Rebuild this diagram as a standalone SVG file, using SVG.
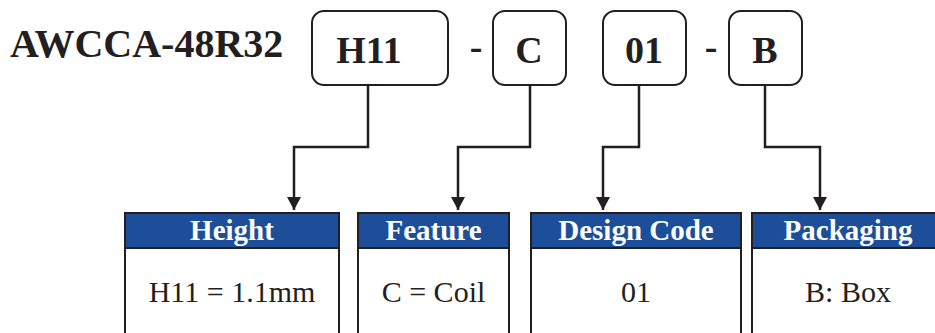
<svg xmlns="http://www.w3.org/2000/svg" width="935" height="333" viewBox="0 0 935 333">
<style>
.t{font-family:"Liberation Serif","Times New Roman",serif;fill:#231f20}
.b{font-weight:bold}
.code{stroke:#231f20;stroke-width:2;fill:#fff}
.hd{fill:#1c4e9a;stroke:#231f20;stroke-width:2}
.bd{fill:#fff;stroke:#231f20;stroke-width:2}
.hdt{font-family:"Liberation Serif","Times New Roman",serif;font-weight:bold;font-size:29px;fill:#fff;text-anchor:middle}
.bdt{font-family:"Liberation Serif","Times New Roman",serif;font-size:30px;fill:#231f20;text-anchor:middle}
.ln{fill:none;stroke:#231f20;stroke-width:2.5}
</style>
<defs>
<marker id="ah" markerWidth="15" markerHeight="14" refX="14" refY="7.5" orient="auto" markerUnits="userSpaceOnUse" viewBox="0 0 15 15">
<path d="M0,0 L14,7.5 L0,15 Z" fill="#231f20"/>
</marker>
</defs>
<rect width="935" height="333" fill="#fff"/>
<g id="title"><text class="t b" x="10" y="57" font-size="40">AWCCA-48R32</text></g>
<g id="dash1"><text class="t b" x="476" y="59" font-size="38" text-anchor="middle">-</text></g>
<g id="dash2"><text class="t b" x="711" y="59" font-size="38" text-anchor="middle">-</text></g>
<g id="code-h11"><rect class="code" x="312" y="11" width="136" height="74" rx="12"/><text class="t b" x="369" y="63" font-size="38" text-anchor="middle">H11</text></g>
<g id="code-c"><rect class="code" x="493" y="11" width="73" height="74" rx="12"/><text class="t b" x="529" y="63" font-size="38" text-anchor="middle">C</text></g>
<g id="code-01"><rect class="code" x="603" y="11" width="83" height="74" rx="12"/><text class="t b" x="644" y="63" font-size="38" text-anchor="middle">01</text></g>
<g id="code-b"><rect class="code" x="729" y="11" width="73" height="74" rx="12"/><text class="t b" x="765" y="63" font-size="38" text-anchor="middle">B</text></g>
<g id="connectors">
<path class="ln" d="M368,85 V147 H294 V210" marker-end="url(#ah)"/>
<path class="ln" d="M530,85 V147 H458 V210" marker-end="url(#ah)"/>
<path class="ln" d="M639,85 V147 H603 V210" marker-end="url(#ah)"/>
<path class="ln" d="M765,85 V147 H820 V210" marker-end="url(#ah)"/>
</g>
<g id="tbl-height"><rect class="bd" x="125" y="213" width="214" height="140"/><rect class="hd" x="125" y="213" width="214" height="35"/><text class="hdt" x="232" y="240">Height</text><text class="bdt" x="232" y="302">H11 = 1.1mm</text></g>
<g id="tbl-feature"><rect class="bd" x="358" y="213" width="151" height="140"/><rect class="hd" x="358" y="213" width="151" height="35"/><text class="hdt" x="433.5" y="240">Feature</text><text class="bdt" x="433.5" y="302">C = Coil</text></g>
<g id="tbl-design"><rect class="bd" x="531" y="213" width="210" height="140"/><rect class="hd" x="531" y="213" width="210" height="35"/><text class="hdt" x="636" y="240">Design Code</text><text class="bdt" x="636" y="302">01</text></g>
<g id="tbl-packaging"><rect class="bd" x="752" y="213" width="192" height="140"/><rect class="hd" x="752" y="213" width="192" height="35"/><text class="hdt" x="848" y="240">Packaging</text><text class="bdt" x="848" y="302">B: Box</text></g>
</svg>
